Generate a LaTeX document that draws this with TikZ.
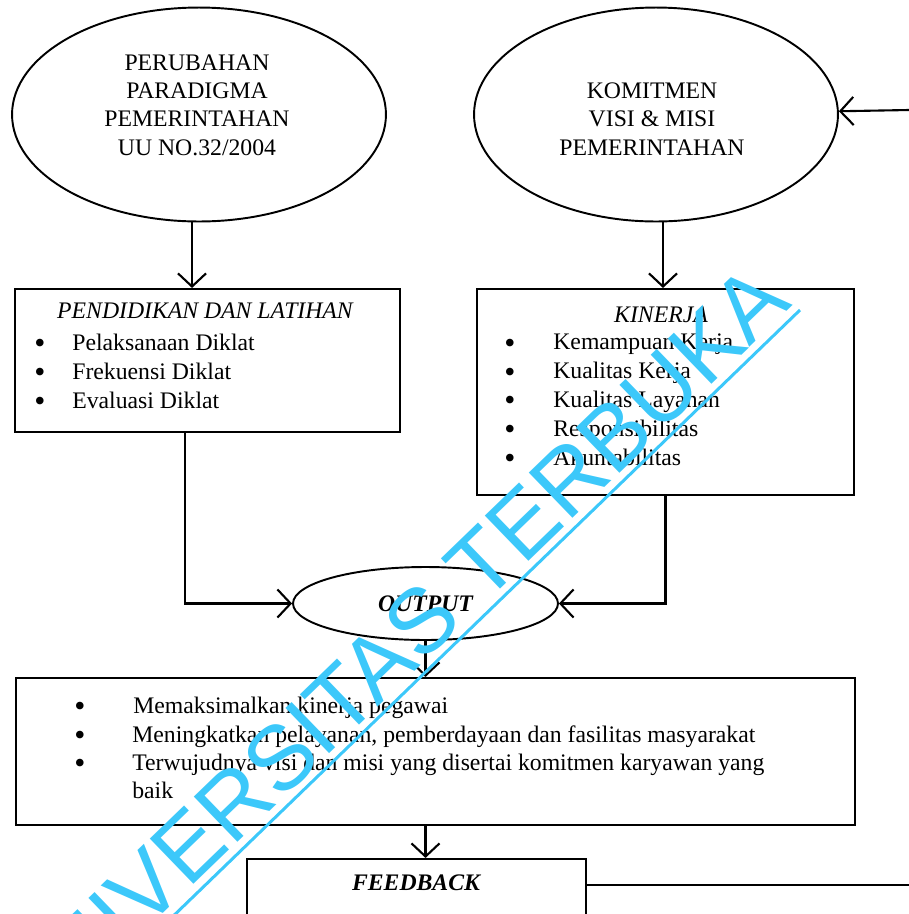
\documentclass[tikz,border=0pt]{standalone}
\usepackage{fontspec}
\setmainfont{Liberation Serif}
\newfontfamily\wmfont{Liberation Sans}
\usepackage{pgf,tikz}
\usetikzlibrary{arrows, shapes}
\usetikzlibrary{arrows.meta}
\usetikzlibrary{positioning}
\definecolor{utcyan}{RGB}{60,200,250}

\begin{document}
\begin{tikzpicture}[x=0.02cm, y=-0.02cm]
\tikzset{
    oval/.style={draw, ellipse, line width=1.1pt, inner sep=0pt},
    kotak/.style={draw, rectangle, line width=1.2pt, inner sep=0pt},
    isi/.style={font=\fontsize{13.5}{16.1}\selectfont, align=center, inner sep=0pt},
    butir/.style={font=\fontsize{13.5}{16.1}\selectfont, anchor=base west, inner sep=0pt},
    titik/.style={font=\fontsize{13.5}{16.1}\selectfont, anchor=base, inner sep=0pt},
    bulat/.style={font=\fontsize{18}{18}\selectfont, anchor=base, inner sep=0pt, yshift=-0.07cm},
    panah/.style={line width=1.2pt, -{Straight Barb[length=7.5pt,width=16pt,line width=1.2pt]}},
    garis/.style={line width=1.2pt},
}
\clip (0,0) rectangle (909,914);

  % lingkaran atas
  \node[oval, minimum width=7.48cm, minimum height=4.28cm] (per) at (199,114.5) {};
  \node[isi] (perteks) at (197,105) {PERUBAHAN\\PARADIGMA\\PEMERINTAHAN\\UU NO.32/2004};
  \node[oval, minimum width=7.28cm, minimum height=4.28cm] (kom) at (656,114.5) {};
  \node[isi] (komteks) at (652,119) {KOMITMEN\\VISI \& MISI\\PEMERINTAHAN};

  % kotak diklat
  \node[kotak, minimum width=7.7cm, minimum height=2.86cm] (pdl) at (207.5,360.5) {};
  \node[titik, font=\fontsize{13.5}{16.1}\selectfont\itshape] (pdljudul) at (205,318) {PENDIDIKAN DAN LATIHAN};
  \foreach \t [count=\i] in {Pelaksanaan Diklat, Frekuensi Diklat, Evaluasi Diklat}{
    \node[bulat] (pdlb\i) at (40,321+29*\i) {\textbullet};
    \node[butir] (pdlt\i) at (72,321+29*\i) {\t};
  }

  % kotak kinerja
  \node[kotak, minimum width=7.54cm, minimum height=4.12cm] (kin) at (665.5,392) {};
  \node[titik, font=\fontsize{13.5}{16.1}\selectfont\itshape] (kinjudul) at (661,322) {KINERJA};
  \foreach \t [count=\i] in {Kemampuan Kerja, Kualitas Kerja, Kualitas Layanan, Responsibilitas, Akuntabilitas}{
    \node[bulat] (kinb\i) at (510,321+28.8*\i) {\textbullet};
    \node[butir] (kint\i) at (553,321+28.8*\i) {\t};
  }

  % output
  \node[oval, minimum width=5.3cm, minimum height=1.46cm, font=\fontsize{13.5}{16.1}\selectfont\bfseries\itshape] (outp) at (425.5,603.5) {OUTPUT};

  % kotak hasil
  \node[kotak, minimum width=16.78cm, minimum height=2.94cm] (hasil) at (435.5,751.5) {};
  \node[bulat] (hasilb1) at (80,713) {\textbullet};
  \node[bulat] (hasilb2) at (80,742) {\textbullet};
  \node[bulat] (hasilb3) at (80,770) {\textbullet};
  \node[butir] (hasilt1) at (133,713) {Memaksimalkan kinerja pegawai};
  \node[butir] (hasilt2) at (132,742) {Meningkatkan pelayanan, pemberdayaan dan fasilitas masyarakat};
  \node[butir] (hasilt3) at (132,770) {Terwujudnya visi dan misi yang disertai komitmen karyawan yang};
  \node[butir] (hasilt4) at (132,798) {baik};

  % feedback
  \node[kotak, minimum width=6.78cm, minimum height=2.02cm] (fb) at (416.5,909.5) {};
  \node[titik, font=\fontsize{13.5}{16.1}\selectfont\bfseries\itshape] (fbteks) at (416,890) {FEEDBACK};

  \coordinate (masuk) at (909,110);
  \coordinate (keluar) at (909,885);

  % panah
  \draw[panah] ([xshift=-0.14cm]per.south) -- ([xshift=-0.14cm]per.south |- pdl.north);
  \draw[panah] ([xshift=0.14cm]kom.south) -- ([xshift=0.14cm]kom.south |- kin.north);
  \draw[panah] ([xshift=-0.45cm]pdl.south) |- (outp.west);
  \draw[panah] (kin.south) |- (outp.east);
  \draw[panah] (outp.south) -- (outp.south |- hasil.north);
  \draw[panah] (hasil.south -| outp.south) -- (outp.south |- fb.north);
  \draw[panah] (masuk) -- (kom);
  \draw[garis] (keluar -| fb.east) -- (keluar);

  % watermark
  \node[text=utcyan, font=\wmfont\fontsize{52}{52}\selectfont, rotate=44, anchor=base east, inner sep=0pt] (wm) at (794,305) {UNIVERSITAS TERBUKA};
  \coordinate (wma) at (165,924);
  \coordinate (wmb) at (800,310);
  \draw[utcyan, line width=1.7pt] (wma) -- (wmb);

\end{tikzpicture}
\end{document}
